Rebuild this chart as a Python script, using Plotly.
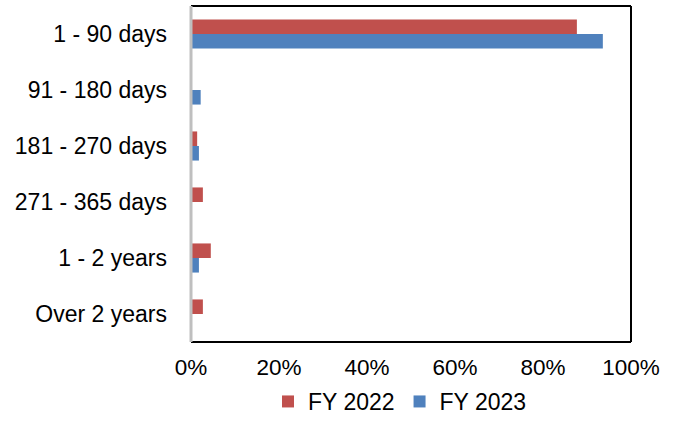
import plotly.graph_objects as go

categories = ["1 - 90 days", "91 - 180 days", "181 - 270 days", "271 - 365 days", "1 - 2 years", "Over 2 years"]
fy2022 = [87.7, 0, 1.4, 2.7, 4.5, 2.7]
fy2023 = [93.6, 2.2, 1.8, 0, 1.8, 0]
x_ticks = [0, 20, 40, 60, 80, 100]

font = dict(family="Liberation Sans, Arial, sans-serif", size=23, color="black")

fig = go.Figure()
fig.add_trace(go.Bar(y=categories, x=fy2022, orientation="h", name="FY 2022",
                     marker=dict(color="#C0504D", line=dict(width=0))))
fig.add_trace(go.Bar(y=categories, x=fy2023, orientation="h", name="FY 2023",
                     marker=dict(color="#4F81BD", line=dict(width=0))))

fig.update_layout(
    width=678, height=423,
    margin=dict(l=191, r=47, t=6, b=81, autoexpand=False),
    paper_bgcolor="white", plot_bgcolor="white",
    barmode="group", bargap=0.48, bargroupgap=0,
    font=font,
    showlegend=True,
    legend=dict(orientation="h", x=0.59, xanchor="center", xref="container",
                y=-0.038, yanchor="bottom", yref="container",
                font=font, traceorder="normal", itemwidth=30),
    xaxis=dict(range=[0, 100], tickvals=x_ticks, ticktext=[f"{v}%" for v in x_ticks],
               showgrid=False, zeroline=False, showline=False,
               ticks="", ticklabelstandoff=9, tickfont=dict(size=22.5)),
    yaxis=dict(autorange="reversed", showgrid=False, zeroline=False, showline=False,
               ticks="", ticklabelstandoff=23),
)
# black frame on top, right, bottom; gray left axis line
for (x0, y0, x1, y1) in [(0, 1, 1, 1), (1, 0, 1, 1), (0, 0, 1, 0)]:
    fig.add_shape(type="line", xref="paper", yref="paper", x0=x0, x1=x1, y0=y0, y1=y1,
                  line=dict(color="black", width=2))
fig.add_shape(type="line", xref="paper", yref="paper", x0=0, x1=0, y0=0, y1=1,
              line=dict(color="#BFBFBF", width=3))

fig.write_html("out.html")
